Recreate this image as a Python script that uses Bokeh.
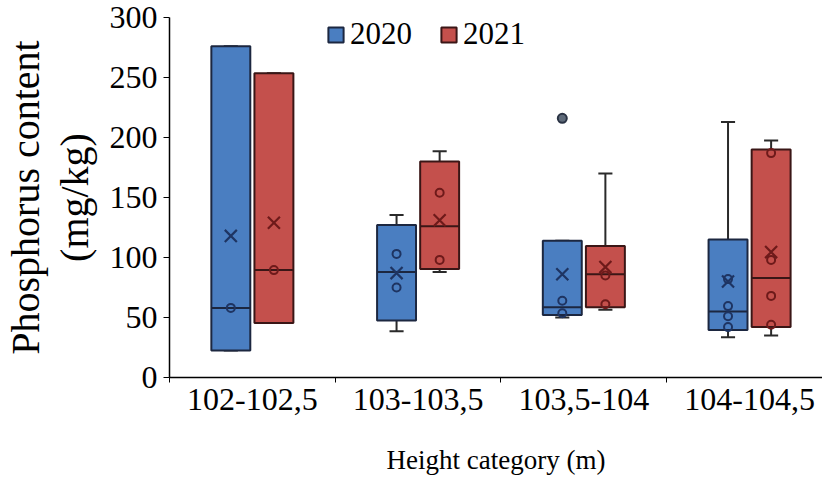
from bokeh.plotting import figure
from bokeh.models import Range1d, FixedTicker, Legend, LegendItem, ColumnDataSource
from bokeh.embed import file_html
from bokeh.resources import INLINE

categories = ["102-102,5", "103-103,5", "103,5-104", "104-104,5"]
years = ["2020", "2021"]

# 2020 series
low_2020 = [22.5, 38.5, 50.0, 33.5]
q1_2020 = [22.5, 47.5, 52.0, 39.5]
med_2020 = [58.0, 88.0, 58.5, 55.0]
q3_2020 = [276.0, 127.0, 114.0, 115.0]
high_2020 = [276.0, 135.5, 114.0, 213.0]
mean_2020 = [118.0, 87.0, 86.0, 80.0]
points_2020 = [[58.0], [103.0, 75.0], [64.0, 53.5], [82.0, 59.5, 51.0, 42.0]]
outliers_2020 = [[], [], [216.0], []]

# 2021 series
low_2021 = [45.5, 88.0, 56.5, 35.0]
q1_2021 = [45.5, 90.5, 58.5, 42.0]
med_2021 = [89.5, 126.0, 86.0, 83.0]
q3_2021 = [253.5, 180.0, 109.5, 190.0]
high_2021 = [253.5, 188.5, 170.0, 197.5]
mean_2021 = [129.0, 131.0, 92.0, 104.5]
points_2021 = [[89.5], [154.0, 98.0], [85.0, 61.0], [187.0, 98.0, 68.0, 44.0]]
outliers_2021 = [[], [], [], []]

y_ticks = [0, 50, 100, 150, 200, 250, 300]

FONT = "'Liberation Serif'"
fills = {"2020": "#4A7EC1", "2021": "#C4504C"}
edges = {"2020": "#1C2740", "2021": "#3A1616"}
marks = {"2020": "#1E3462", "2021": "#6E1A1A"}
offsets = {"2020": -0.13, "2021": 0.13}
BOX_W = 0.235
CAP_W = 0.085

p = figure(width=822, height=477, x_range=Range1d(0, 3.94), y_range=Range1d(0, 300),
           output_backend="svg", toolbar_location=None,
           min_border_left=168, min_border_right=0, min_border_top=17, min_border_bottom=100)
p.xgrid.visible = False
p.ygrid.visible = False
p.outline_line_color = None
p.background_fill_color = "white"

series = {
    "2020": (low_2020, q1_2020, med_2020, q3_2020, high_2020, mean_2020, points_2020, outliers_2020),
    "2021": (low_2021, q1_2021, med_2021, q3_2021, high_2021, mean_2021, points_2021, outliers_2021),
}

legend_items = []
for yr in years:
    lo, q1, md, q3, hi, mn, pts, outs = series[yr]
    xs = [i + 0.5 + offsets[yr] for i in range(len(categories))]
    src = ColumnDataSource(dict(x=xs, lo=lo, q1=q1, md=md, q3=q3, hi=hi, mn=mn,
                                x0=[x - BOX_W / 2 for x in xs], x1=[x + BOX_W / 2 for x in xs],
                                c0=[x - CAP_W / 2 for x in xs], c1=[x + CAP_W / 2 for x in xs]))
    # whiskers
    p.segment(x0="x", y0="q3", x1="x", y1="hi", source=src, line_color="#2a2a2a", line_width=2)
    p.segment(x0="x", y0="lo", x1="x", y1="q1", source=src, line_color="#2a2a2a", line_width=2)
    p.segment(x0="c0", y0="hi", x1="c1", y1="hi", source=src, line_color="#2a2a2a", line_width=2)
    p.segment(x0="c0", y0="lo", x1="c1", y1="lo", source=src, line_color="#2a2a2a", line_width=2)
    # boxes
    r = p.vbar(x="x", width=BOX_W, top="q3", bottom="q1", source=src,
               fill_color=fills[yr], line_color=edges[yr], line_width=2)
    legend_items.append(LegendItem(label=yr, renderers=[r]))
    # median
    p.segment(x0="x0", y0="md", x1="x1", y1="md", source=src, line_color=edges[yr], line_width=2)
    # inner points
    px, py = [], []
    for i, vals in enumerate(pts):
        for v in vals:
            px.append(xs[i]); py.append(v)
    p.scatter(px, py, marker="circle", size=8, fill_color=None, line_color=marks[yr], line_width=2)
    # mean
    p.scatter(x="x", y="mn", source=src, marker="x", size=17, line_color=marks[yr], line_width=2.2)
    # outliers
    ox, oy = [], []
    for i, vals in enumerate(outs):
        for v in vals:
            ox.append(xs[i]); oy.append(v)
    if ox:
        p.scatter(ox, oy, marker="circle", size=9, fill_color="#5f6b7a", line_color="#2a3344", line_width=2)

# axes
xa = p.xaxis[0]
xa.ticker = FixedTicker(ticks=[i + 0.5 for i in range(len(categories))],
                        minor_ticks=list(range(len(categories))))
xa.major_label_overrides = {i + 0.5: c for i, c in enumerate(categories)}
xa.major_tick_out = 0
xa.major_tick_in = 0
xa.minor_tick_out = 5
xa.minor_tick_in = 0
xa.minor_tick_line_color = "black"
xa.axis_line_color = "black"
xa.axis_line_width = 1.5
xa.major_label_text_font = FONT
xa.major_label_text_font_size = "32px"
xa.major_label_text_color = "black"
xa.major_label_standoff = 6
xa.axis_label = "Height category (m)"
xa.axis_label_text_font = FONT
xa.axis_label_text_font_size = "27px"
xa.axis_label_text_font_style = "normal"
xa.axis_label_text_color = "black"
xa.axis_label_standoff = 32

ya = p.yaxis[0]
ya.ticker = FixedTicker(ticks=y_ticks, minor_ticks=[])
ya.major_tick_out = 6
ya.major_tick_in = 0
ya.minor_tick_out = 0
ya.axis_line_color = "black"
ya.axis_line_width = 1.5
ya.major_tick_line_color = "black"
ya.major_label_text_font = FONT
ya.major_label_text_font_size = "32px"
ya.major_label_text_color = "black"
ya.major_label_standoff = 6
ya.axis_label = "Phosphorus content\n(mg/kg)"
ya.axis_label_text_font = FONT
ya.axis_label_text_font_size = "40px"
ya.axis_label_text_font_style = "normal"
ya.axis_label_text_color = "black"
ya.axis_label_text_line_height = 1.07
ya.axis_label_standoff = 10

legend = Legend(items=legend_items, orientation="horizontal", location=(157, 325))
legend.label_text_font = FONT
legend.label_text_font_size = "31px"
legend.label_text_color = "black"
legend.glyph_width = 19
legend.glyph_height = 19
legend.label_standoff = 5
legend.spacing = 27
legend.padding = 0
legend.margin = 0
legend.border_line_color = None
legend.background_fill_alpha = 0
p.add_layout(legend)

open("out.html", "w").write(file_html(p, INLINE))
